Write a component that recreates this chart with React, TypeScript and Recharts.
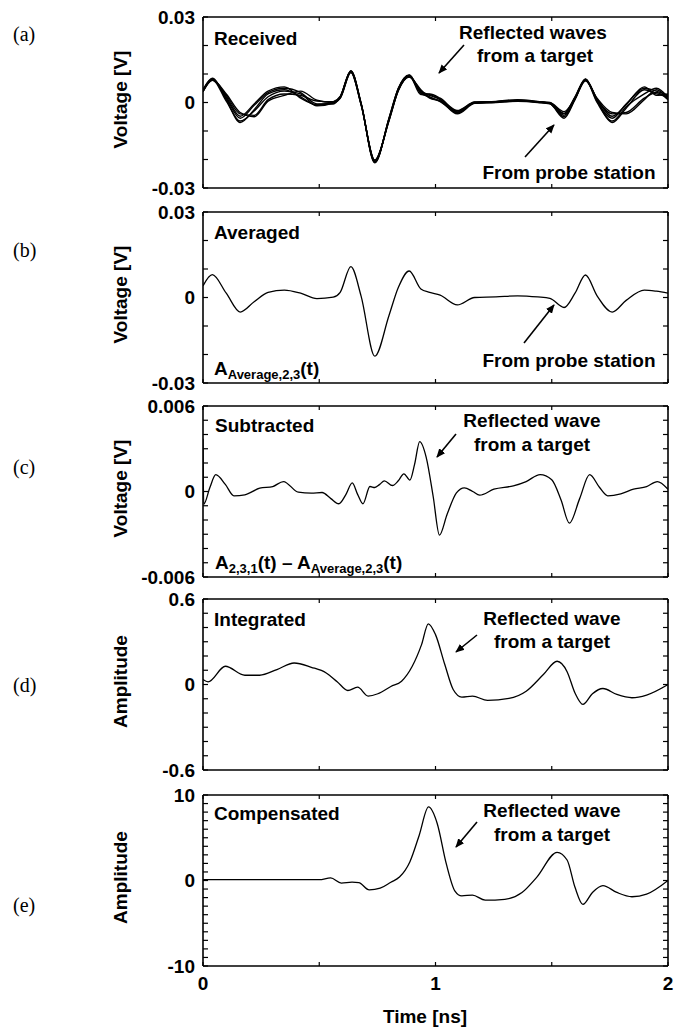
import React from 'react';
import { LineChart, Line, XAxis, YAxis } from 'recharts';

const FONT = '"Liberation Sans", Arial, Helvetica, sans-serif';
const SERIF = '"Liberation Serif", "Times New Roman", serif';

// ---------- axis ticks ----------
const timeTicks = [0, 0.5, 1, 1.5, 2];
const timeLabelValues = [0, 1, 2];
const timeLabelTexts = ['0', '1', '2'];

const voltTicks = [-0.03, -0.02, -0.01, 0, 0.01, 0.02, 0.03];
const voltLabelValues = [-0.03, 0, 0.03];
const voltLabelTexts = ['-0.03', '0', '0.03'];

const subTicks = [-0.006, -0.005, -0.004, -0.003, -0.002, -0.001, 0, 0.001, 0.002, 0.003, 0.004, 0.005, 0.006];
const subLabelValues = [-0.006, 0, 0.006];
const subLabelTexts = ['-0.006', '0', '0.006'];

const intTicks = [-0.6, -0.5, -0.4, -0.3, -0.2, -0.1, 0, 0.1, 0.2, 0.3, 0.4, 0.5, 0.6];
const intLabelValues = [-0.6, 0, 0.6];
const intLabelTexts = ['-0.6', '0', '0.6'];

const compTicks = [-10, -9, -8, -7, -6, -5, -4, -3, -2, -1, 0, 1, 2, 3, 4, 5, 6, 7, 8, 9, 10];
const compLabelValues = [-10, 0, 10];
const compLabelTexts = ['-10', '0', '10'];

// ---------- (a) received, several traces ----------
const recTime = [0, 0.04, 0.10, 0.16, 0.22, 0.28, 0.35, 0.42, 0.49, 0.56, 0.59, 0.636, 0.68, 0.739, 0.80, 0.84, 0.887, 0.937, 0.975, 1.02, 1.094, 1.168, 1.26, 1.353, 1.44, 1.492, 1.553, 1.60, 1.645, 1.695, 1.76, 1.82, 1.898, 1.95, 2.0];
const recTrace1 = [0.0045, 0.0085, 0.0010, -0.0070, -0.0025, 0.0030, 0.0045, 0.0020, -0.0010, 0.0000, 0.0020, 0.0112, -0.0003, -0.0212, -0.0055, 0.0050, 0.0097, 0.0035, 0.0025, 0.0010, -0.0030, 0.0000, 0.0003, 0.0008, 0.0002, -0.0002, -0.0040, 0.0018, 0.0083, 0.0008, -0.0070, -0.0020, 0.0045, 0.0030, 0.0020];
const recTrace2 = [0.0038, 0.0078, 0.0025, -0.0040, -0.0045, 0.0010, 0.0030, 0.0025, 0.0005, 0.0003, 0.0016, 0.0106, -0.0007, -0.0203, -0.0063, 0.0042, 0.0090, 0.0040, 0.0015, 0.0005, -0.0035, -0.0002, 0.0000, 0.0005, 0.0003, -0.0004, -0.0050, 0.0012, 0.0077, 0.0010, -0.0040, -0.0035, 0.0015, 0.0035, 0.0010];
const recTrace3 = [0.0042, 0.0082, 0.0015, -0.0055, -0.0010, 0.0035, 0.0050, 0.0035, -0.0005, -0.0005, 0.0019, 0.0110, -0.0004, -0.0208, -0.0058, 0.0047, 0.0095, 0.0028, 0.0030, 0.0015, -0.0028, 0.0002, 0.0004, 0.0010, 0.0004, 0.0000, -0.0032, 0.0016, 0.0081, 0.0004, -0.0055, -0.0005, 0.0050, 0.0040, 0.0025];
const recTrace4 = [0.0040, 0.0080, 0.0005, -0.0065, -0.0030, 0.0020, 0.0040, 0.0030, -0.0012, -0.0002, 0.0017, 0.0108, -0.0005, -0.0206, -0.0061, 0.0044, 0.0092, 0.0032, 0.0020, 0.0003, -0.0033, -0.0001, 0.0002, 0.0007, 0.0001, -0.0003, -0.0045, 0.0014, 0.0079, 0.0000, -0.0065, -0.0015, 0.0030, 0.0050, 0.0018];
const recTrace5 = [0.0044, 0.0083, 0.0020, -0.0048, -0.0005, 0.0040, 0.0055, 0.0015, -0.0008, 0.0002, 0.0021, 0.0111, -0.0002, -0.0210, -0.0056, 0.0049, 0.0096, 0.0038, 0.0028, 0.0012, -0.0038, 0.0001, 0.0003, 0.0006, 0.0003, -0.0001, -0.0038, 0.0020, 0.0082, 0.0012, -0.0048, -0.0008, 0.0055, 0.0025, 0.0030];
const recTrace6 = [0.0039, 0.0079, 0.0030, -0.0035, -0.0050, 0.0005, 0.0025, 0.0040, 0.0008, 0.0000, 0.0015, 0.0105, -0.0008, -0.0202, -0.0064, 0.0041, 0.0089, 0.0045, 0.0018, 0.0006, -0.0040, -0.0003, 0.0001, 0.0004, 0.0000, -0.0005, -0.0055, 0.0010, 0.0076, 0.0015, -0.0035, -0.0040, 0.0010, 0.0045, 0.0012];

// ---------- (b) averaged ----------
const avgTime = recTime;
const avgVolt = [0.0041, 0.0080, 0.0015, -0.0051, -0.0015, 0.0018, 0.0026, 0.0015, -0.0004, 0.0001, 0.0018, 0.0108, 0.0005, -0.0206, -0.0063, 0.0035, 0.0093, 0.0030, 0.0018, 0.0008, -0.0026, 0.0000, 0.0002, 0.0006, 0.0002, -0.0003, -0.0035, 0.0015, 0.0079, 0.0006, -0.0051, -0.0010, 0.0026, 0.0022, 0.0015];

// ---------- (c) subtracted ----------
const subTime = [0, 0.003, 0.03, 0.055, 0.096, 0.133, 0.18, 0.244, 0.30, 0.346, 0.41, 0.466, 0.512, 0.55, 0.584, 0.615, 0.642, 0.665, 0.688, 0.718, 0.739, 0.76, 0.78, 0.815, 0.84, 0.864, 0.89, 0.91, 0.932, 0.96, 0.99, 1.017, 1.05, 1.09, 1.124, 1.16, 1.19, 1.251, 1.335, 1.39, 1.45, 1.50, 1.54, 1.576, 1.62, 1.663, 1.705, 1.741, 1.797, 1.852, 1.908, 1.954, 2.0];
const subVolt = [0.0037, -0.0009, 0.0003, 0.00118, 0.0005, -0.0003, -0.00023, 0.00023, 0.00035, 0.0007, -0.00005, -0.00012, -0.00007, -0.0005, -0.00086, -0.0002, 0.0006, -0.0002, -0.00086, 0.00035, 0.00028, 0.0005, 0.00075, 0.00042, 0.00075, 0.00124, 0.0008, 0.0019, 0.0035, 0.0024, -0.00035, -0.00306, -0.0016, -0.0001, 0.00026, 0.0, -0.00026, 0.00016, 0.0004, 0.0007, 0.00119, 0.00082, -0.0006, -0.00222, -0.0005, 0.00118, 0.0003, -0.0003, -0.00016, 0.00016, 0.00035, 0.0007, 0.00016];

// ---------- (d) integrated ----------
const intTime = [0, 0.022, 0.096, 0.18, 0.244, 0.318, 0.392, 0.466, 0.53, 0.577, 0.623, 0.665, 0.71, 0.752, 0.808, 0.854, 0.9, 0.94, 0.969, 1.0, 1.04, 1.076, 1.113, 1.159, 1.224, 1.316, 1.39, 1.464, 1.523, 1.566, 1.60, 1.634, 1.675, 1.72, 1.78, 1.845, 1.908, 2.0];
const intAmp = [0.035, 0.019, 0.128, 0.065, 0.065, 0.105, 0.151, 0.121, 0.081, 0.02, -0.042, -0.019, -0.081, -0.065, -0.014, 0.023, 0.128, 0.28, 0.426, 0.35, 0.14, -0.035, -0.088, -0.081, -0.112, -0.098, -0.047, 0.07, 0.163, 0.09, -0.06, -0.14, -0.065, -0.028, -0.07, -0.093, -0.074, 0.0];

// ---------- (e) compensated ----------
const compTime = [0, 0.25, 0.5, 0.549, 0.595, 0.641, 0.67, 0.715, 0.762, 0.808, 0.845, 0.89, 0.93, 0.97, 1.007, 1.046, 1.083, 1.113, 1.159, 1.214, 1.298, 1.372, 1.436, 1.523, 1.566, 1.60, 1.634, 1.675, 1.72, 1.78, 1.845, 1.908, 2.0];
const compAmp = [0.1, 0.1, 0.1, 0.3, -0.3, -0.2, -0.25, -1.1, -0.9, -0.2, 0.4, 2.2, 5.3, 8.6, 6.7, 2.0, -1.2, -1.8, -1.7, -2.3, -2.2, -1.4, 0.4, 3.3, 2.4, -0.8, -2.8, -1.4, -0.6, -1.4, -1.9, -1.6, 0.0];

const zip = (t: number[], v: number[]) => t.map((x, i) => ({ t: x, v: v[i] }));

// ---------- geometry ----------
const PLOT_LEFT = 203;
const PLOT_RIGHT = 668;
const PANEL_H = 171;
const PAD = 20;

const near = (a: number, b: number) => Math.abs(a - b) < 1e-9;

const makeLeftTick = (vals: number[], texts: string[]) => (props: any) => {
  const { x, y, payload } = props;
  const idx = vals.findIndex((v) => near(v, payload.value));
  return (
    <g>
      <line x1={x} x2={x + 5} y1={y} y2={y} stroke="#000" strokeWidth={1.2} />
      {idx >= 0 && (
        <text x={x - 8} y={y} dy="0.36em" textAnchor="end" fontFamily={FONT} fontWeight="bold" fontSize={19} fill="#000">
          {texts[idx]}
        </text>
      )}
    </g>
  );
};

const RightTick = (props: any) => {
  const { x, y } = props;
  return <line x1={x - 5} x2={x} y1={y} y2={y} stroke="#000" strokeWidth={1.2} />;
};

const TopTick = (props: any) => {
  const { x, y } = props;
  return <line x1={x} x2={x} y1={y} y2={y + 4} stroke="#000" strokeWidth={1.2} />;
};

const makeBottomTick = (showLabels: boolean) => (props: any) => {
  const { x, y, payload } = props;
  const idx = timeLabelValues.findIndex((v) => near(v, payload.value));
  return (
    <g>
      <line x1={x} x2={x} y1={y} y2={y - 4} stroke="#000" strokeWidth={1.2} />
      {showLabels && idx >= 0 && (
        <text x={x} y={y + 17} dy="0.36em" textAnchor="middle" fontFamily={FONT} fontWeight="bold" fontSize={19} fill="#000">
          {timeLabelTexts[idx]}
        </text>
      )}
    </g>
  );
};

type Series = { data: { t: number; v: number }[]; width: number };

const Panel = ({
  top,
  series,
  domain,
  ticks,
  labelVals,
  labelTexts,
  showTime,
}: {
  top: number;
  series: Series[];
  domain: [number, number];
  ticks: number[];
  labelVals: number[];
  labelTexts: string[];
  showTime?: boolean;
}) => {
  const bottomPad = showTime ? 40 : PAD;
  const axisLine = { stroke: '#000', strokeWidth: 1.6 };
  return (
    <div style={{ position: 'absolute', left: 0, top: top - PAD }}>
      <LineChart
        width={674}
        height={PANEL_H + PAD + bottomPad}
        margin={{ top: PAD - 1, left: PLOT_LEFT - 1, right: 674 - PLOT_RIGHT - 1, bottom: bottomPad - 1 }}
      >
        <XAxis
          xAxisId="b"
          dataKey="t"
          type="number"
          domain={[0, 2]}
          ticks={timeTicks}
          interval={0}
          height={1}
          tickSize={0}
          tickMargin={0}
          axisLine={axisLine}
          tickLine={false}
          tick={makeBottomTick(!!showTime)}
          allowDataOverflow
        />
        <XAxis
          xAxisId="t"
          orientation="top"
          dataKey="t"
          type="number"
          domain={[0, 2]}
          ticks={timeTicks}
          interval={0}
          height={1}
          tickSize={0}
          tickMargin={0}
          axisLine={axisLine}
          tickLine={false}
          tick={TopTick}
          allowDataOverflow
        />
        <YAxis
          yAxisId="l"
          type="number"
          domain={domain}
          ticks={ticks}
          interval={0}
          width={1}
          tickSize={0}
          tickMargin={0}
          axisLine={axisLine}
          tickLine={false}
          tick={makeLeftTick(labelVals, labelTexts)}
          allowDataOverflow
        />
        <YAxis
          yAxisId="r"
          orientation="right"
          type="number"
          domain={domain}
          ticks={ticks}
          interval={0}
          width={1}
          tickSize={0}
          tickMargin={0}
          axisLine={axisLine}
          tickLine={false}
          tick={RightTick}
          allowDataOverflow
        />
        {series.map((s, i) => (
          <Line
            key={i}
            xAxisId="b"
            yAxisId="l"
            data={s.data}
            dataKey="v"
            type="monotone"
            stroke="#000"
            strokeWidth={s.width}
            dot={false}
            activeDot={false}
            isAnimationActive={false}
          />
        ))}
      </LineChart>
    </div>
  );
};

const panelTops = [17, 212, 406, 599, 795];

const boldText = { fontFamily: FONT, fontWeight: 'bold' as const, fontSize: 19, fill: '#000' };

const Arrow = ({ x1, y1, x2, y2 }: { x1: number; y1: number; x2: number; y2: number }) => (
  <line x1={x1} y1={y1} x2={x2} y2={y2} stroke="#000" strokeWidth={1.6} markerEnd="url(#ah)" />
);

const Overlay = () => (
  <svg width={674} height={1033} style={{ position: 'absolute', left: 0, top: 0, pointerEvents: 'none' }}>
    <defs>
      <marker id="ah" viewBox="0 0 10 10" refX="9" refY="5" markerUnits="userSpaceOnUse" markerWidth="9" markerHeight="9" orient="auto">
        <path d="M0,0.8 L10,5 L0,9.2 z" fill="#000" />
      </marker>
    </defs>
    {['(a)', '(b)', '(c)', '(d)', '(e)'].map((s, i) => (
      <text key={s} x={13} y={[34, 250, 467, 685, 905][i]} dy="0.35em" fontFamily={SERIF} fontSize={20} fill="#000">
        {s}
      </text>
    ))}
    {['Voltage [V]', 'Voltage [V]', 'Voltage [V]', 'Amplitude', 'Amplitude'].map((s, i) => {
      const cy = panelTops[i] + PANEL_H / 2 - 3;
      return (
        <text key={i} x={120} y={cy} transform={`rotate(-90 120 ${cy})`} textAnchor="middle" dy="0.36em" {...boldText}>
          {s}
        </text>
      );
    })}
    <text x={425} y={1016} textAnchor="middle" dy="0.36em" {...boldText}>Time [ns]</text>

    {/* (a) */}
    <text x={214} y={38} dy="0.36em" {...boldText}>Received</text>
    <text x={533} y={32} dy="0.36em" textAnchor="middle" {...boldText}>Reflected waves</text>
    <text x={535} y={55} dy="0.36em" textAnchor="middle" {...boldText}>from a target</text>
    <Arrow x1={464} y1={45} x2={439} y2={73} />
    <text x={569} y={172} dy="0.36em" textAnchor="middle" {...boldText}>From probe station</text>
    <Arrow x1={525} y1={157} x2={554} y2={125} />

    {/* (b) */}
    <text x={214} y={232} dy="0.36em" {...boldText}>Averaged</text>
    <text x={569} y={360} dy="0.36em" textAnchor="middle" {...boldText}>From probe station</text>
    <Arrow x1={524} y1={343} x2={554} y2={305} />
    <text x={214} y={375} {...boldText}>
      A<tspan dy={4} fontSize={13}>Average,2,3</tspan><tspan dy={-4}>(t)</tspan>
    </text>

    {/* (c) */}
    <text x={215} y={425} dy="0.36em" {...boldText}>Subtracted</text>
    <text x={532} y={420} dy="0.36em" textAnchor="middle" {...boldText}>Reflected wave</text>
    <text x={532} y={444} dy="0.36em" textAnchor="middle" {...boldText}>from a target</text>
    <Arrow x1={456} y1={434} x2={437} y2={457} />
    <text x={215} y={569} {...boldText}>
      A<tspan dy={4} fontSize={13}>2,3,1</tspan><tspan dy={-4}>(t) – A</tspan><tspan dy={4} fontSize={13}>Average,2,3</tspan><tspan dy={-4}>(t)</tspan>
    </text>

    {/* (d) */}
    <text x={214} y={619} dy="0.36em" {...boldText}>Integrated</text>
    <text x={552} y={618} dy="0.36em" textAnchor="middle" {...boldText}>Reflected wave</text>
    <text x={552} y={641} dy="0.36em" textAnchor="middle" {...boldText}>from a target</text>
    <Arrow x1={477} y1={635} x2={456} y2={652} />

    {/* (e) */}
    <text x={214} y={813} dy="0.36em" {...boldText}>Compensated</text>
    <text x={552} y={810} dy="0.36em" textAnchor="middle" {...boldText}>Reflected wave</text>
    <text x={552} y={834} dy="0.36em" textAnchor="middle" {...boldText}>from a target</text>
    <Arrow x1={477} y1={822} x2={456} y2={847} />
  </svg>
);

export default function App() {
  const recSeries: Series[] = [recTrace1, recTrace2, recTrace3, recTrace4, recTrace5, recTrace6].map((tr) => ({
    data: zip(recTime, tr),
    width: 1.4,
  }));
  return (
    <div style={{ position: 'absolute', left: 0, top: 0, width: 674, height: 1033, background: '#fff' }}>
      <Panel top={panelTops[0]} series={recSeries} domain={[-0.03, 0.03]} ticks={voltTicks} labelVals={voltLabelValues} labelTexts={voltLabelTexts} />
      <Panel top={panelTops[1]} series={[{ data: zip(avgTime, avgVolt), width: 1.3 }]} domain={[-0.03, 0.03]} ticks={voltTicks} labelVals={voltLabelValues} labelTexts={voltLabelTexts} />
      <Panel top={panelTops[2]} series={[{ data: zip(subTime, subVolt), width: 1.3 }]} domain={[-0.006, 0.006]} ticks={subTicks} labelVals={subLabelValues} labelTexts={subLabelTexts} />
      <Panel top={panelTops[3]} series={[{ data: zip(intTime, intAmp), width: 1.3 }]} domain={[-0.6, 0.6]} ticks={intTicks} labelVals={intLabelValues} labelTexts={intLabelTexts} />
      <Panel top={panelTops[4]} series={[{ data: zip(compTime, compAmp), width: 1.3 }]} domain={[-10, 10]} ticks={compTicks} labelVals={compLabelValues} labelTexts={compLabelTexts} showTime />
      <Overlay />
    </div>
  );
}
